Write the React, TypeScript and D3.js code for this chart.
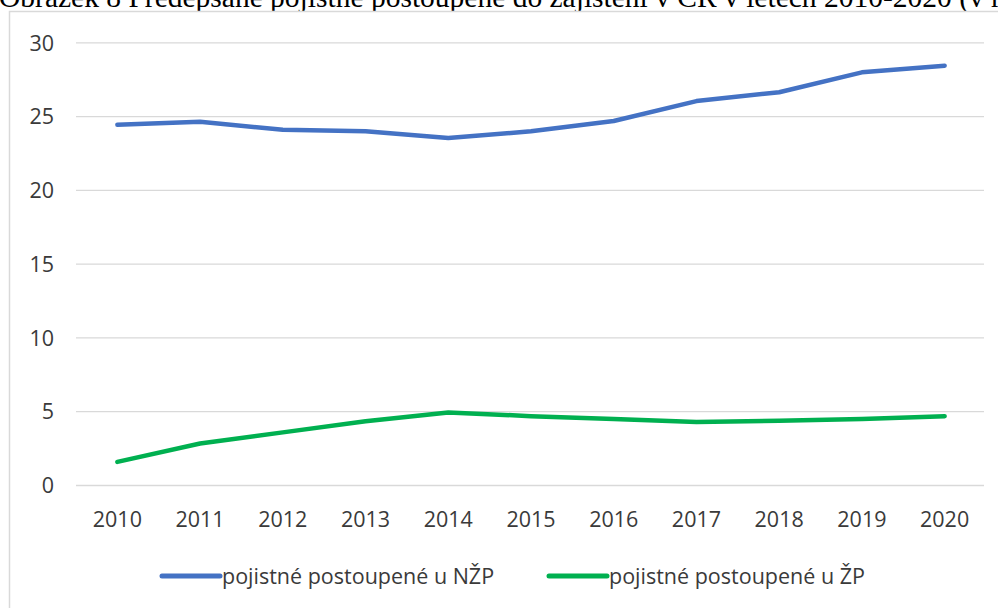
import React from "react";
import * as d3 from "d3";

const years = ["2010", "2011", "2012", "2013", "2014", "2015", "2016", "2017", "2018", "2019", "2020"];
const nzp = [24.45, 24.65, 24.1, 24.0, 23.55, 24.0, 24.7, 26.05, 26.65, 28.0, 28.45];
const zp = [1.6, 2.85, 3.6, 4.35, 4.95, 4.7, 4.5, 4.3, 4.38, 4.5, 4.7];
const yTicks = [0, 5, 10, 15, 20, 25, 30];
const seriesNames = ["pojistné postoupené u NŽP", "pojistné postoupené u ŽP"];
const title = "Obrázek 8 Předepsané pojistné postoupené do zajištění v ČR v letech 2010-2020 (v mld. Kč)";

export default function App() {
  const W = 998, H = 608;
  const x = d3.scalePoint<string>().domain(years).range([76, 986]).padding(0.5);
  const y = d3.scaleLinear().domain([0, 30]).range([485.5, 42.8]);
  const line = d3.line<number>().x((_, i) => x(years[i]) as number).y((d) => y(d));
  const font = "'Open Sans', sans-serif";
  const textColor = "#3a3a3a";
  const series = [
    { values: nzp, color: "#4472C4" },
    { values: zp, color: "#00B050" },
  ];
  const legendX = [162, 549];
  return (
    <svg width={W} height={H} style={{ position: "absolute", left: 0, top: 0 }}>
      <rect x={0} y={0} width={W} height={H} fill="#fff" />
      <text x={-1} y={7} fontFamily="'Liberation Serif', serif" fontSize={29.5} fill="#000">{title}</text>
      <rect x={9.5} y={11.5} width={W + 10} height={H + 10} fill="#fff" stroke="#D9D9D9" strokeWidth={1.5} />
      {yTicks.map((t) => (
        <g key={t}>
          <line x1={76} x2={984} y1={y(t)} y2={y(t)} stroke="#D9D9D9" strokeWidth={1.3} />
          <text x={54} y={y(t)} dy="0.36em" textAnchor="end" fontFamily={font} fontSize={21.5} fill={textColor}>{t}</text>
        </g>
      ))}
      {years.map((yr) => (
        <text key={yr} x={x(yr)} y={519} dy="0.36em" textAnchor="middle" fontFamily={font} fontSize={21.5} fill={textColor}>{yr}</text>
      ))}
      {series.map((s, i) => (
        <path key={i} d={line(s.values) || ""} fill="none" stroke={s.color} strokeWidth={4.5} strokeLinecap="round" strokeLinejoin="round" />
      ))}
      {series.map((s, i) => (
        <g key={"l" + i}>
          <line x1={legendX[i]} x2={legendX[i] + 58} y1={576} y2={576} stroke={s.color} strokeWidth={5} strokeLinecap="round" />
          <text x={legendX[i] + 60} y={576} dy="0.36em" fontFamily={font} fontSize={21.5} fill={textColor}>{seriesNames[i]}</text>
        </g>
      ))}
    </svg>
  );
}
